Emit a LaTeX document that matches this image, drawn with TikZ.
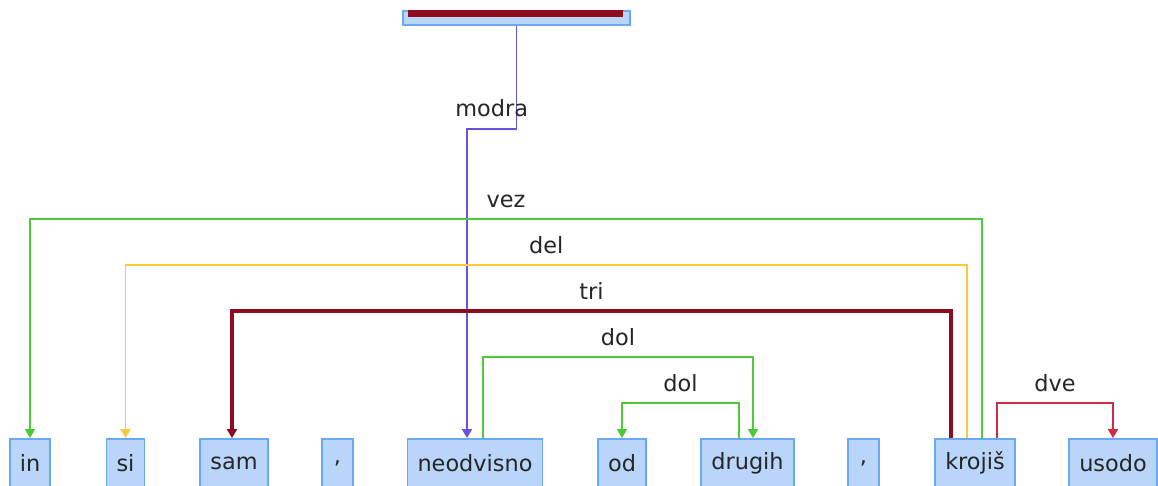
\documentclass[tikz,border=0pt]{standalone}
\usepackage{fontspec}
\setmainfont{DejaVu Sans}
\usetikzlibrary{arrows.meta,calc}
\definecolor{tokfill}{HTML}{B9D5FA}
\definecolor{tokline}{HTML}{6AA9F2}
\definecolor{relgreen}{HTML}{4FC936}
\definecolor{relyellow}{HTML}{FFC83D}
\definecolor{reldark}{HTML}{8E0C1E}
\definecolor{relpurple}{HTML}{6B4FE0}
\definecolor{relred}{HTML}{D42A45}
\begin{document}
\begin{tikzpicture}[x=0.5pt,y=-0.5pt,
    font=\fontsize{11.2}{13}\selectfont,
    tok/.style={draw=tokline,fill=tokfill,line width=0.9pt,inner xsep=5pt,
        minimum width=15.5pt,minimum height=24pt,text=black!85},
    rel/.style={line width=0.9pt,-{Triangle[length=4.5pt,width=5pt]}},
    lbl/.style={anchor=base,yshift=6pt,text=black!85,inner sep=1pt}]
        \useasboundingbox (0,0) rectangle (1158,486);

        \node[draw=tokline,fill=tokfill,line width=0.9pt,minimum width=113.5pt,
            minimum height=7pt,inner sep=0pt] (root) at (516.5,18) {};
        \fill[reldark] ($(root.north west)+(6,0)$) rectangle ($(root.north east)+(-8,7)$);

        \node[tok] (in) at (30,463) {in};
        \node[tok] (si) at (125.5,463) {si};
        \node[tok] (sam) at (234,463) {sam};
        \node[tok] (c1) at (337.5,463) {,};
        \node[tok] (neo) at (475,463) {neodvisno};
        \node[tok] (od) at (622,463) {od};
        \node[tok] (drugih) at (747.5,463) {drugih};
        \node[tok] (c2) at (863.5,463) {,};
        \node[tok] (kro) at (975,463) {krojiš};
        \node[tok] (usodo) at (1113,463) {usodo};

        \draw[rel,relpurple] (root.south) -- ++(0,103) -| node[lbl,pos=0.25] {modra} ($(neo.north)+(-8,0)$);
        \draw[rel,relgreen] ($(kro.north)+(7,0)$) -- ++(0,-219) -| node[lbl,pos=0.25] {vez} (in.north);
        \draw[rel,relyellow] ($(kro.north)+(-8,0)$) -- ++(0,-173) -| node[lbl,pos=0.25] {del} (si.north);
        \draw[rel,reldark,line width=1.6pt] ($(kro.north)+(-24,0)$) -- ++(0,-127) -| node[lbl,pos=0.25] {tri} ($(sam.north)+(-2,0)$);
        \draw[rel,relgreen] ($(neo.north)+(8,0)$) -- ++(0,-81) -| node[lbl,pos=0.25] {dol} ($(drugih.north)+(5.5,0)$);
        \draw[rel,relgreen] ($(drugih.north)+(-8.5,0)$) -- ++(0,-35) -| node[lbl,pos=0.25] {dol} (od.north);
        \draw[rel,relred] ($(kro.north)+(22,0)$) -- ++(0,-35) -| node[lbl,pos=0.25] {dve} (usodo.north);
    \end{tikzpicture}
\end{document}
